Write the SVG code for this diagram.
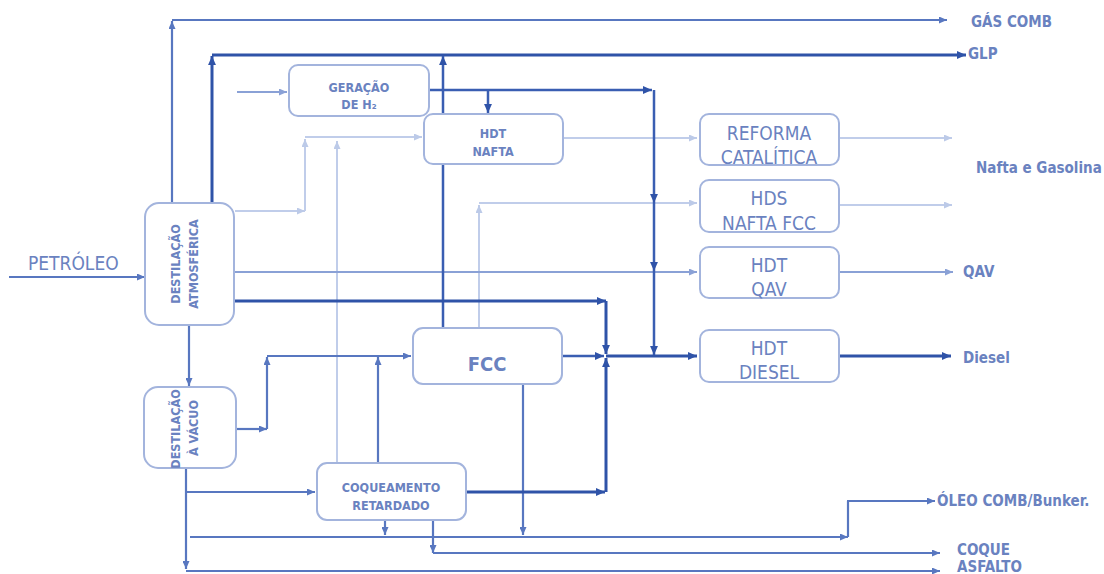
<svg xmlns="http://www.w3.org/2000/svg" width="1104" height="574" viewBox="0 0 1104 574">
<defs>
<marker id="aL" viewBox="0 0 8 7" refX="8" refY="3.5" markerWidth="8" markerHeight="7" markerUnits="userSpaceOnUse" orient="auto"><path d="M0,0 L8,3.5 L0,7 z" fill="#bccae8"/></marker>
<marker id="aML" viewBox="0 0 8 7" refX="8" refY="3.5" markerWidth="8" markerHeight="7" markerUnits="userSpaceOnUse" orient="auto"><path d="M0,0 L8,3.5 L0,7 z" fill="#8aa1d6"/></marker>
<marker id="aM" viewBox="0 0 8 7" refX="8" refY="3.5" markerWidth="8" markerHeight="7" markerUnits="userSpaceOnUse" orient="auto"><path d="M0,0 L8,3.5 L0,7 z" fill="#5877c0"/></marker>
<marker id="aD" viewBox="0 0 8 7" refX="8" refY="3.5" markerWidth="9" markerHeight="8" markerUnits="userSpaceOnUse" orient="auto"><path d="M0,0 L8,3.5 L0,7 z" fill="#2f53a8"/></marker>
</defs>
<style>
.box{fill:#fff;stroke:#a3b4dd;stroke-width:2}
.t{font-family:"DejaVu Sans Condensed","DejaVu Sans",sans-serif;fill:#6a82c0;text-anchor:middle}
.b{font-weight:bold}
.lbl{font-family:"DejaVu Sans Condensed","DejaVu Sans",sans-serif;fill:#6a82c0;font-weight:bold;font-size:15px}
.L{fill:none;stroke:#c0cdea;stroke-width:2;marker-end:url(#aL)}
.ML{fill:none;stroke:#8aa1d6;stroke-width:2;marker-end:url(#aML)}
.M{fill:none;stroke:#5877c0;stroke-width:2.2;marker-end:url(#aM)}
.D{fill:none;stroke:#2f53a8;stroke-width:3;marker-end:url(#aD)}
.D2{fill:none;stroke:#3a5eb2;stroke-width:2.5;marker-end:url(#aD)}
.n{marker-end:none}
</style>
<rect width="1104" height="574" fill="#fff"/>
<g id="connectors">
<path class="L" d="M235 211 H305"/>
<path class="L" d="M305 211 V139"/>
<path class="L" d="M305 137 H422"/>
<path class="L" d="M337 463 V141"/>
<path class="L" d="M563 138 H697"/>
<path class="L" d="M839 138 H952"/>
<path class="L" d="M479 328 V205"/>
<path class="L" d="M479 203 H697"/>
<path class="L" d="M839 205 H952"/>
<path class="ML" d="M237 92 H287"/>
<path class="ML" d="M235 272 H697"/>
<path class="ML" d="M839 272 H953"/>
<path class="M" d="M9 277 H145"/>
<path class="M" d="M172 203 V21"/>
<path class="M" d="M172 20 H947"/>
<path class="M" d="M189 325 V386"/>
<path class="M" d="M236 429 H267"/>
<path class="M" d="M267 429 V357"/>
<path class="M" d="M267 356 H411"/>
<path class="M" d="M378 463 V357"/>
<path class="M" d="M186 468 V569"/>
<path class="M" d="M186 571 H940"/>
<path class="M" d="M186 492 H315"/>
<path class="M" d="M190 537 H848"/>
<path class="M n" d="M848 537 V501"/>
<path class="M" d="M847 501 H935"/>
<path class="M" d="M385 520 V535"/>
<path class="M" d="M523 384 V535"/>
<path class="M" d="M433 520 V553"/>
<path class="M" d="M433 553 H940"/>
<path class="D" d="M212 203 V56"/>
<path class="D" d="M212 55 H966"/>
<path class="D2" d="M443 328 V56"/>
<path class="D2" d="M428 90 H652"/>
<path class="D2" d="M488 90 V113"/>
<path class="D2" d="M654 90 V203"/>
<path class="D2" d="M654 203 V271"/>
<path class="D2" d="M654 271 V355"/>
<path class="D" d="M235 301 H606"/>
<path class="D" d="M606 301 V354"/>
<path class="D2" d="M562 356 H604"/>
<path class="D" d="M606 356 H697"/>
<path class="D" d="M839 356 H951"/>
<path class="D" d="M466 492 H605"/>
<path class="D" d="M606 492 V358"/>
</g>
<g id="geracao_h2">
<rect class="box" x="289" y="65" width="140" height="51" rx="9"/>
<text class="t b" x="359" y="92" font-size="12.5">GERAÇÃO</text>
<text class="t b" x="359" y="109" font-size="12.5">DE H₂</text>
</g>
<g id="hdt_nafta">
<rect class="box" x="424" y="114" width="139" height="50" rx="9"/>
<text class="t b" x="493" y="138" font-size="12.5">HDT</text>
<text class="t b" x="493" y="156" font-size="12.5">NAFTA</text>
</g>
<g id="reforma">
<rect class="box" x="700" y="114" width="139" height="51" rx="9"/>
<text class="t" x="769" y="140" font-size="19">REFORMA</text>
<text class="t" x="769" y="164" font-size="19">CATALÍTICA</text>
</g>
<g id="hds_nafta_fcc">
<rect class="box" x="700" y="180" width="139" height="52" rx="9"/>
<text class="t" x="769" y="205" font-size="19">HDS</text>
<text class="t" x="769" y="230" font-size="19">NAFTA FCC</text>
</g>
<g id="hdt_qav">
<rect class="box" x="700" y="247" width="139" height="51" rx="9"/>
<text class="t" x="769" y="272" font-size="19">HDT</text>
<text class="t" x="769" y="296" font-size="19">QAV</text>
</g>
<g id="hdt_diesel">
<rect class="box" x="700" y="330" width="139" height="52" rx="9"/>
<text class="t" x="769" y="355" font-size="19">HDT</text>
<text class="t" x="769" y="379" font-size="19">DIESEL</text>
</g>
<g id="fcc">
<rect class="box" x="413" y="328" width="149" height="56" rx="10"/>
<text class="t b" x="487" y="371" font-size="20">FCC</text>
</g>
<g id="destilacao_atm">
<rect class="box" x="145" y="203" width="89" height="122" rx="14"/>
<text class="t b" font-size="12.5" transform="translate(180 264) rotate(-90)">DESTILAÇÃO</text>
<text class="t b" font-size="12.5" transform="translate(198 264) rotate(-90)">ATMOSFÉRICA</text>
</g>
<g id="destilacao_vacuo">
<rect class="box" x="144" y="387" width="92" height="81" rx="14"/>
<text class="t b" font-size="12.5" transform="translate(180 429) rotate(-90)">DESTILAÇÃO</text>
<text class="t b" font-size="12.5" transform="translate(198 428) rotate(-90)">À VÁCUO</text>
</g>
<g id="coqueamento">
<rect class="box" x="317" y="463" width="149" height="57" rx="10"/>
<text class="t b" x="391" y="492" font-size="12.5">COQUEAMENTO</text>
<text class="t b" x="391" y="510" font-size="12.5">RETARDADO</text>
</g>
<g id="labels">
<text x="28" y="270" font-family="DejaVu Sans Condensed, DejaVu Sans, sans-serif" font-size="19" fill="#6a82c0">PETRÓLEO</text>
<text class="lbl" x="971" y="27">GÁS COMB</text>
<text class="lbl" x="968" y="59">GLP</text>
<text class="lbl" x="976" y="173">Nafta e Gasolina</text>
<text class="lbl" x="963" y="277">QAV</text>
<text class="lbl" x="963" y="363">Diesel</text>
<text class="lbl" x="937" y="506">ÓLEO COMB/Bunker.</text>
<text class="lbl" x="957" y="555">COQUE</text>
<text class="lbl" x="957" y="572">ASFALTO</text>
</g>
</svg>
